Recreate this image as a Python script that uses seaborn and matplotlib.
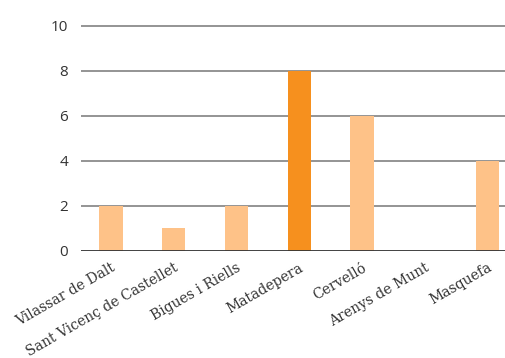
import matplotlib
matplotlib.use("Agg")
import matplotlib.pyplot as plt
import seaborn as sns
import pandas as pd

# Values
municipis = ["Vilassar de Dalt", "Sant Vicenç de Castellet", "Bigues i Riells",
             "Matadepera", "Cervelló", "Arenys de Munt", "Masquefa"]
valors = [2, 1, 2, 8, 6, 0, 4]
destacat = "Matadepera"

df = pd.DataFrame({"municipi": municipis, "valor": valors})
colors = {m: ("#F6901E" if m == destacat else "#FEC288") for m in municipis}

sns.set_style("white")
fig = plt.figure(figsize=(5.05, 3.58), dpi=100)
ax = fig.add_axes([0.160, 0.299, 0.840, 0.632])

sns.barplot(data=df, x="municipi", y="valor", hue="municipi", palette=colors,
            width=0.37, legend=False, ax=ax, saturation=1, zorder=3, linewidth=0)

ax.set_ylim(0, 10.05)
ax.set_xlim(-0.48, 6.28)
ax.set_yticks([0, 2, 4, 6, 8, 10])
for y in [2, 4, 6, 8, 10]:
    ax.axhline(y, color="#777777", lw=1.1, zorder=1)
ax.axhline(0, color="#333333", lw=1.3, zorder=4)

for s in ax.spines.values():
    s.set_visible(False)
ax.tick_params(axis="both", length=0)
ax.tick_params(axis="y", pad=9)
ax.set_xlabel("")
ax.set_ylabel("")

for lab in ax.get_yticklabels():
    lab.set_fontfamily("Open Sans")
    lab.set_fontsize(11)
    lab.set_color("#333333")

ax.set_xticks(range(len(municipis)))
ax.set_xticklabels(municipis, rotation=30, ha="right", rotation_mode="anchor",
                   fontfamily="DejaVu Serif", fontsize=10, color="#333333")
ax.tick_params(axis="x", pad=7)

fig.savefig("out.png", dpi=100)
